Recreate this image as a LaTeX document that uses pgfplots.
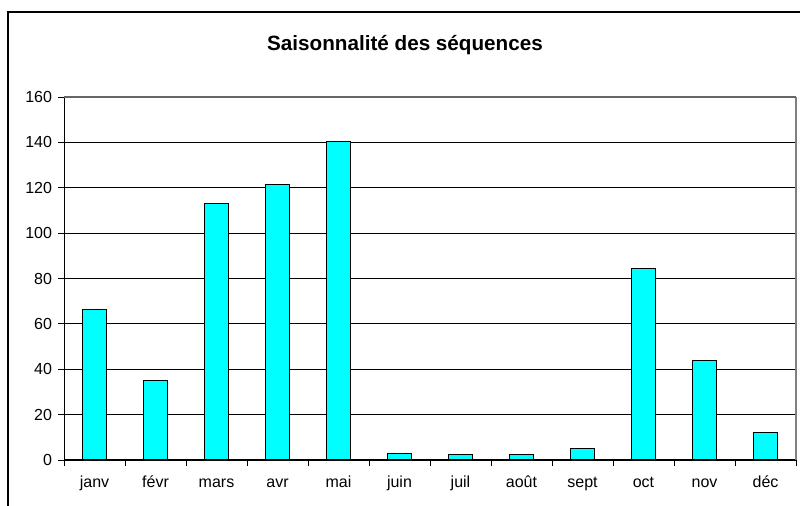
\documentclass[border=0pt]{standalone}
\usepackage{fontspec}
\setmainfont{Liberation Sans}
\usepackage{pgfplots}
\pgfplotsset{compat=1.18}
\definecolor{barcyan}{RGB}{0,255,255}
\begin{document}
\begin{tikzpicture}[x=0.75pt,y=0.75pt]
\path[use as bounding box] (0,0) rectangle (800,506);
% chart frame (cropped on the right and bottom)
\draw[black, line width=1.2pt] (8,0) -- (8,494) -- (800,494);
\node[font=\fontsize{15.5}{18}\selectfont\bfseries] at (405,461) {Saisonnalité des séquences};
\begin{axis}[
  at={(48pt,34.5pt)}, anchor=south west,
  scale only axis, width=549pt, height=272.25pt,
  xmin=-0.5, xmax=11.5, ymin=0, ymax=160,
  ytick={0,20,...,160},
  xtick={0,...,11},
  xticklabels={janv,févr,mars,avr,mai,juin,juil,août,sept,oct,nov,déc},
  minor xtick={-0.5,0.5,...,11.5},
  major x tick style={draw=none},
  tick align=outside,
  major tick length=4.5pt,
  minor tick length=4.5pt,
  tick style={black, line width=0.6pt},
  axis x line*=bottom, axis y line*=left,
  axis line style={black, line width=0.75pt},
  ymajorgrids, grid style={black, line width=0.7pt},
  ticklabel style={font=\fontsize{12}{14}\selectfont},
  /pgf/number format/assume math mode=true,
  xticklabel style={anchor=north, text height=8.6pt, text depth=2.5pt, yshift=-4pt},
  yticklabel style={xshift=-1pt},
  clip=false,
]
\addplot[ybar, bar width=17.5pt, fill=barcyan, draw=black, line width=0.75pt]
  coordinates {(0,66.4) (1,35) (2,113) (3,121.5) (4,140.2) (5,2.8) (6,2.3) (7,2.3) (8,5.2) (9,84.5) (10,44) (11,12)};
\draw[gray, line width=1.5pt] (rel axis cs:1,0) -- (rel axis cs:1,1);
\draw[gray!80!black, line width=0.9pt] (rel axis cs:0,1) -- (rel axis cs:1,1);
\end{axis}
\end{tikzpicture}
\end{document}
